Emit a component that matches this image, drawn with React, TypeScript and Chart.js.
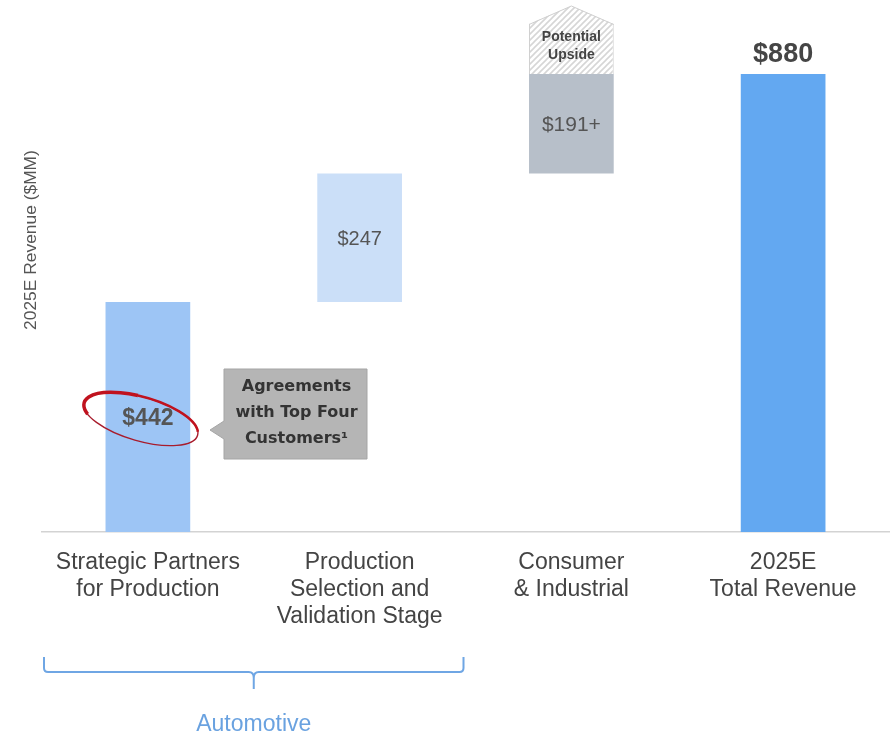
import React, { useEffect, useRef } from "react";
import { Chart, registerables } from "chart.js";

Chart.register(...registerables);

const categories = [
  ["Strategic Partners", "for Production"],
  ["Production", "Selection and", "Validation Stage"],
  ["Consumer", "& Industrial"],
  ["2025E", "Total Revenue"],
];
const barStarts = [0, 442, 689, 0];
const barEnds = [442, 689, 880, 880];
const valueLabels = ["$442", "$247", "$191+", "$880"];
const upsideStarts = [null, null, 880, null];
const upsideEnds = [null, null, 976, null];
const upsideLines = ["Potential", "Upside"];
const barColors = ["#9DC5F5", "#CBDFF8", "#B7BFC9", "#63A8F1"];
const yAxisTitle = "2025E Revenue ($MM)";
const calloutLines = ["Agreements", "with Top Four", "Customers¹"];
const groupLabel = "Automotive";
const yMax = 1000;

const SANS = "'Liberation Sans', Arial, sans-serif";

function makeHatch(): CanvasPattern | string {
  const c = document.createElement("canvas");
  c.width = 6;
  c.height = 6;
  const g = c.getContext("2d");
  if (!g) return "#eee";
  g.fillStyle = "#ffffff";
  g.fillRect(0, 0, 6, 6);
  g.strokeStyle = "#d6d6d6";
  g.lineWidth = 1.6;
  g.beginPath();
  g.moveTo(0, 6);
  g.lineTo(6, 0);
  g.moveTo(-1, 1);
  g.lineTo(1, -1);
  g.moveTo(5, 7);
  g.lineTo(7, 5);
  g.stroke();
  const p = g.createPattern(c, "repeat");
  return p || "#eee";
}

const overlayPlugin = {
  id: "overlay",
  afterDatasetsDraw(chart: any) {
    const ctx = chart.ctx as CanvasRenderingContext2D;
    const x = chart.scales.x;
    const mainMeta = chart.getDatasetMeta(0);
    const upMeta = chart.getDatasetMeta(1);
    const hatch = chart.$hatch;

    ctx.save();

    // Upside cap (pentagon tip)
    upMeta.data.forEach((el: any, i: number) => {
      if (upsideEnds[i] == null) return;
      const w = el.width;
      const left = el.x - w / 2;
      const right = el.x + w / 2;
      const tip = el.y - 18;
      ctx.beginPath();
      ctx.moveTo(left, el.y);
      ctx.lineTo(el.x, tip);
      ctx.lineTo(right, el.y);
      ctx.closePath();
      ctx.fillStyle = hatch;
      ctx.fill();
      ctx.beginPath();
      ctx.moveTo(left, el.y + 0.5);
      ctx.lineTo(el.x, tip);
      ctx.lineTo(right, el.y + 0.5);
      ctx.strokeStyle = "#cfcfcf";
      ctx.lineWidth = 1;
      ctx.stroke();
      ctx.fillStyle = "#444";
      ctx.font = `bold 14px ${SANS}`;
      ctx.textAlign = "center";
      ctx.textBaseline = "middle";
      const mid = (el.y + el.base) / 2 - 3;
      upsideLines.forEach((t, k) => {
        ctx.fillText(t, el.x, mid + (k - (upsideLines.length - 1) / 2) * 18);
      });
    });

    // Value labels
    mainMeta.data.forEach((el: any, i: number) => {
      ctx.textAlign = "center";
      ctx.textBaseline = "middle";
      if (i === 3) {
        ctx.font = `bold 27px ${SANS}`;
        ctx.fillStyle = "#454545";
        ctx.fillText(valueLabels[i], el.x, el.y - 19);
      } else if (i === 0) {
        ctx.font = `bold 23px ${SANS}`;
        ctx.fillStyle = "#555";
        ctx.fillText(valueLabels[i], el.x, (el.y + el.base) / 2 + 2);
      } else {
        ctx.font = `${i === 2 ? 21 : 20}px ${SANS}`;
        ctx.fillStyle = "#555";
        ctx.fillText(valueLabels[i], el.x, (el.y + el.base) / 2 + 2);
      }
    });

    // Red ellipse around first label
    const e0 = mainMeta.data[0];
    const ecx = e0.x - 7;
    const ecy = (e0.y + e0.base) / 2 + 2;
    ctx.save();
    ctx.translate(ecx, ecy);
    ctx.rotate((16 * Math.PI) / 180);
    ctx.strokeStyle = "#A81C2C";
    ctx.lineWidth = 1.4;
    ctx.beginPath();
    ctx.ellipse(0, 0, 59, 22, 0, 0, Math.PI * 2);
    ctx.stroke();
    ctx.strokeStyle = "#C0121E";
    ctx.lineWidth = 3.5;
    ctx.beginPath();
    ctx.ellipse(0, 0, 59, 22, 0, Math.PI * 0.85, Math.PI * 1.45);
    ctx.stroke();
    ctx.lineWidth = 2.5;
    ctx.beginPath();
    ctx.ellipse(0, 0, 59, 22, 0, Math.PI * 1.45, Math.PI * 1.95);
    ctx.stroke();
    ctx.restore();

    // Callout box
    const bx = 224;
    const by = 369;
    const bw = 143;
    const bh = 90;
    ctx.beginPath();
    ctx.moveTo(bx, by);
    ctx.lineTo(bx + bw, by);
    ctx.lineTo(bx + bw, by + bh);
    ctx.lineTo(bx, by + bh);
    ctx.lineTo(bx, by + 70);
    ctx.lineTo(bx - 14, by + 61);
    ctx.lineTo(bx, by + 52);
    ctx.closePath();
    ctx.fillStyle = "#B5B5B5";
    ctx.fill();
    ctx.strokeStyle = "#A5A5A5";
    ctx.lineWidth = 1;
    ctx.stroke();
    ctx.fillStyle = "#333";
    ctx.font = `bold 16px 'DejaVu Sans', sans-serif`;
    ctx.textAlign = "center";
    ctx.textBaseline = "middle";
    calloutLines.forEach((t, k) => {
      ctx.fillText(t, bx + bw / 2 + 1, by + 18 + k * 26);
    });

    // Y axis title
    ctx.save();
    ctx.translate(31, 240);
    ctx.rotate(-Math.PI / 2);
    ctx.font = `17.4px ${SANS}`;
    ctx.fillStyle = "#555";
    ctx.textAlign = "center";
    ctx.textBaseline = "middle";
    ctx.fillText(yAxisTitle, 0, 0);
    ctx.restore();

    // Brace under first two categories
    const half = (x.getPixelForValue(1) - x.getPixelForValue(0)) / 2;
    const bl = x.getPixelForValue(0) - half + 2;
    const br = x.getPixelForValue(1) + half - 2;
    const bm = (bl + br) / 2;
    const top = 657;
    const yl = 672;
    ctx.strokeStyle = "#6FA6E4";
    ctx.lineWidth = 2;
    ctx.beginPath();
    ctx.moveTo(bl, top);
    ctx.lineTo(bl, yl - 4);
    ctx.quadraticCurveTo(bl, yl, bl + 4, yl);
    ctx.lineTo(bm - 5, yl);
    ctx.quadraticCurveTo(bm, yl, bm, yl + 6);
    ctx.lineTo(bm, 689);
    ctx.moveTo(bm, yl + 6);
    ctx.quadraticCurveTo(bm, yl, bm + 5, yl);
    ctx.lineTo(br - 4, yl);
    ctx.quadraticCurveTo(br, yl, br, yl - 4);
    ctx.lineTo(br, top);
    ctx.stroke();

    ctx.fillStyle = "#6AA2E0";
    ctx.font = `23px ${SANS}`;
    ctx.textAlign = "center";
    ctx.textBaseline = "middle";
    ctx.fillText(groupLabel, bm, 725);

    ctx.restore();
  },
};

export default function App() {
  const ref = useRef<HTMLCanvasElement | null>(null);

  useEffect(() => {
    if (!ref.current) return;
    const hatch = makeHatch();
    const chart = new Chart(ref.current, {
      type: "bar",
      data: {
        labels: categories as any,
        datasets: [
          {
            label: "Revenue",
            data: barStarts.map((s, i) => [s, barEnds[i]]) as any,
            backgroundColor: barColors,
            borderWidth: 0,
            grouped: false,
            barPercentage: 0.5,
            categoryPercentage: 0.8,
          } as any,
          {
            label: "Potential Upside",
            data: upsideStarts.map((s, i) => (s == null ? null : [s, upsideEnds[i]])) as any,
            backgroundColor: hatch as any,
            borderColor: "#cfcfcf",
            borderWidth: { top: 0, left: 1, right: 1, bottom: 0 },
            borderSkipped: false,
            grouped: false,
            barPercentage: 0.5,
            categoryPercentage: 0.8,
          } as any,
        ],
      },
      options: {
        animation: false,
        responsive: false,
        maintainAspectRatio: false,
        layout: { padding: { left: 42, right: 5, top: 11.5, bottom: 0 } },
        plugins: {
          legend: { display: false },
          tooltip: { enabled: false },
        },
        scales: {
          x: {
            grid: { display: false, drawTicks: false },
            border: { display: true, color: "#D3D3D3", width: 1.5 },
            ticks: {
              color: "#444",
              font: { family: SANS, size: 23, lineHeight: 27 / 23 },
              padding: 17,
              maxRotation: 0,
              autoSkip: false,
            },
            afterFit: (scale: any) => {
              scale.height = 203;
            },
          },
          y: {
            display: false,
            min: 0,
            max: yMax,
          },
        },
      },
      plugins: [overlayPlugin],
    });
    (chart as any).$hatch = hatch;
    chart.draw();
    return () => chart.destroy();
  }, []);

  return (
    <div style={{ position: "fixed", left: 0, top: 0, width: 894, height: 735, background: "#fff" }}>
      <canvas ref={ref} width={894} height={735} style={{ display: "block", width: 894, height: 735 }} />
    </div>
  );
}
